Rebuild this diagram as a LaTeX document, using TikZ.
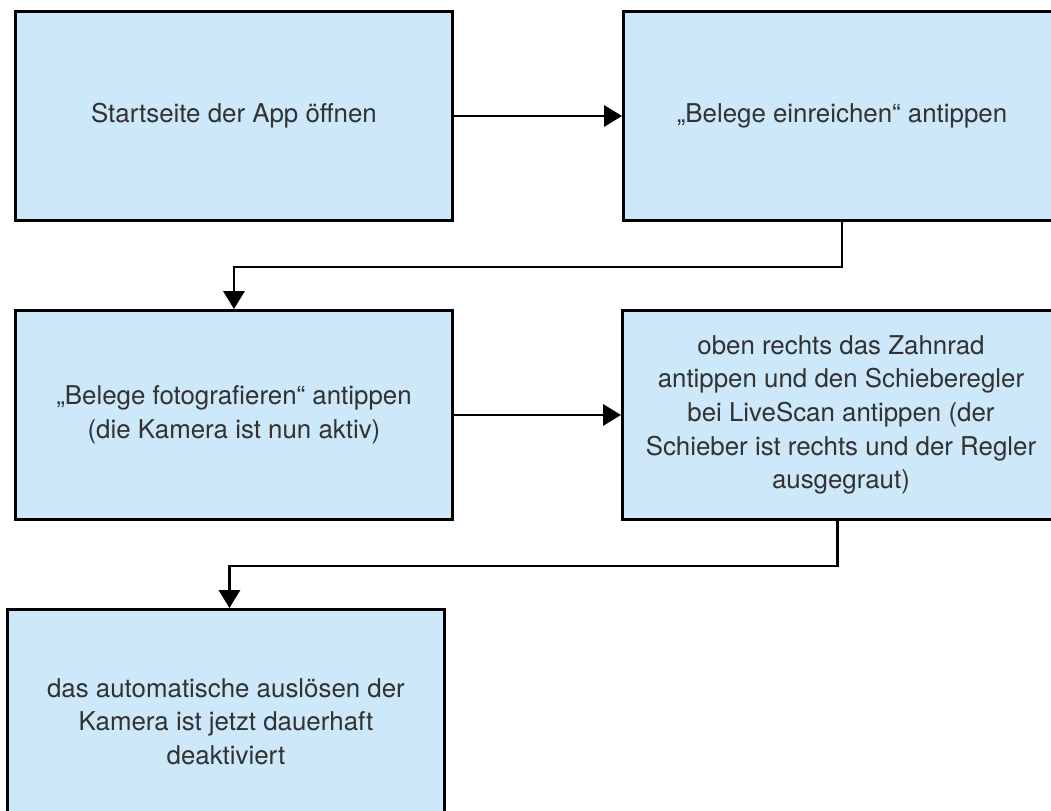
\documentclass[tikz,border=0pt]{standalone}
\usepackage{fontspec}
\setmainfont{TeX Gyre Heros}
\usetikzlibrary{arrows.meta}
\definecolor{boxfill}{RGB}{204,232,249}
\definecolor{txt}{RGB}{50,50,50}
\begin{document}
\begin{tikzpicture}[x=0.75pt,y=-0.75pt,
  flowbox/.style={draw=black,line width=2.2pt,fill=boxfill,rectangle,inner sep=0pt,
    minimum width=437*0.75pt,minimum height=209*0.75pt,anchor=north west,
    align=center,text=txt,font=\fontsize{19.4pt}{25.2pt}\selectfont},
  conn/.style={line width=1.8pt,-{Triangle[width=16pt,length=13.5pt]}}]
\useasboundingbox (0,0) rectangle (1051,811);
\node[flowbox] (b1) at (14,10) {Startseite der App öffnen};
\node[flowbox] (b2) at (622,10) {„Belege einreichen“ antippen};
\node[flowbox] (b3) at (14,309) {„Belege fotografieren“ antippen\\(die Kamera ist nun aktiv)};
\node[flowbox] (b4) at (621,309) {oben rechts das Zahnrad\\antippen und den Schieberegler\\bei LiveScan antippen (der\\Schieber ist rechts und der Regler\\ausgegraut)};
\node[flowbox,minimum height=224*0.75pt] (b5) at (6,608) {das automatische auslösen der\\Kamera ist jetzt dauerhaft\\deaktiviert};
\draw[conn] (b1.east) -- (b2.west);
\draw[conn] (b2.south) -- ++(0,45) -| (b3.north);
\draw[conn] (b3.east) -- (b4.west);
\draw[conn] ([xshift=-2.6pt]b4.south) -- ++(0,45) -| ([xshift=2.6pt]b5.north);
\end{tikzpicture}
\end{document}
